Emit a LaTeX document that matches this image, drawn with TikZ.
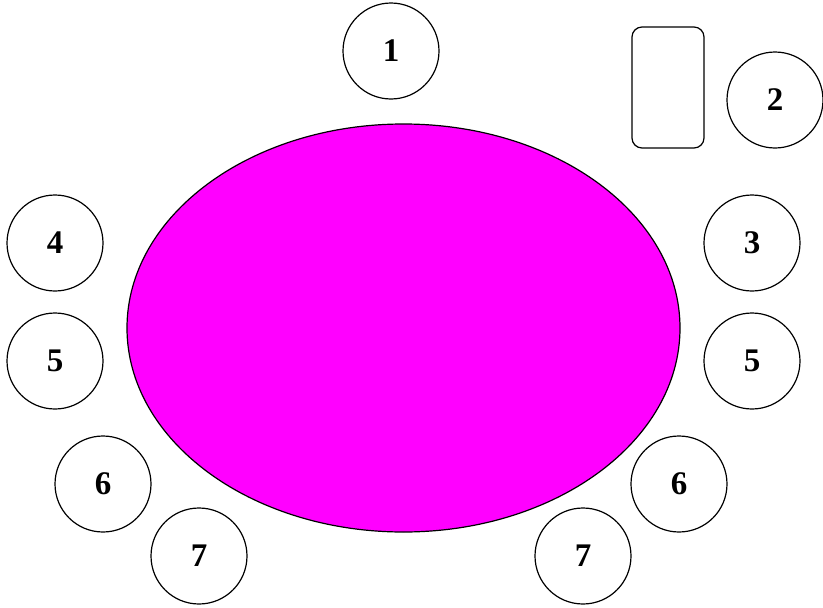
\documentclass[tikz,border=0pt]{standalone}
\usepackage{fontspec}
\setmainfont{Liberation Serif}
\usetikzlibrary{shapes.geometric}
\definecolor{tablemag}{HTML}{FF00FF}
\begin{document}
\begin{tikzpicture}[x=1pt,y=-1pt,
  seat/.style={circle,draw=black,line width=1.2pt,minimum size=96pt,inner sep=0pt,
    font=\fontsize{33}{36}\selectfont\bfseries},
  tablebox/.style={ellipse,draw=black,line width=1.2pt,fill=tablemag,
    minimum width=553pt,minimum height=408pt,inner sep=0pt},
  sidebox/.style={rectangle,rounded corners=10pt,draw=black,line width=1.2pt,
    minimum width=72pt,minimum height=121pt,inner sep=0pt}]
\useasboundingbox (0,0) rectangle (823,608);
\node[tablebox] (table) at (403.5,328) {};
\node[sidebox] (side) at (668,87.5) {};
\node[seat] (s1) at (391,51) {1};
\node[seat] (s2) at (775,100) {2};
\node[seat] (s3) at (752,243) {3};
\node[seat] (s4) at (55,243) {4};
\node[seat] (s5l) at (55,361) {5};
\node[seat] (s5r) at (752,361) {5};
\node[seat] (s6l) at (103,484) {6};
\node[seat] (s6r) at (679,484) {6};
\node[seat] (s7l) at (199,556) {7};
\node[seat] (s7r) at (583,556) {7};
\end{tikzpicture}
\end{document}
